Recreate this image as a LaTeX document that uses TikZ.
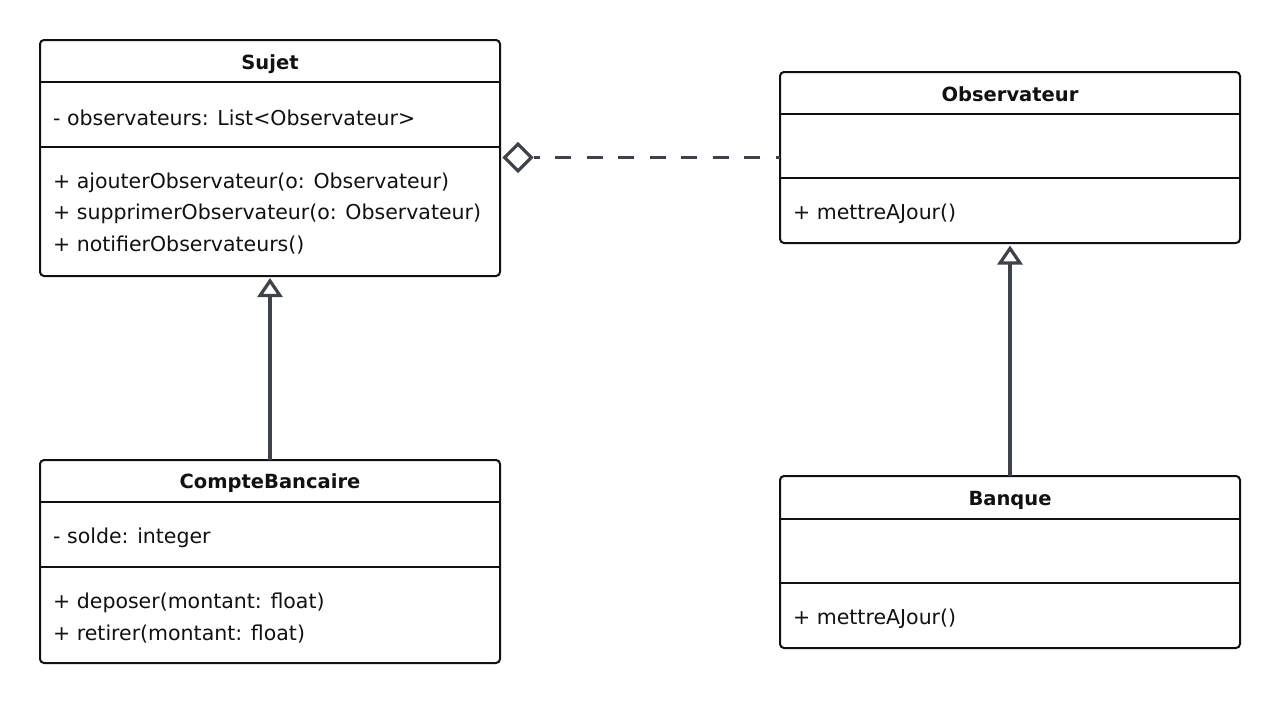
\documentclass[tikz,border=0pt]{standalone}
\usepackage{fontspec}
\setmainfont{DejaVu Sans}
\usetikzlibrary{arrows.meta,shapes.geometric}
\definecolor{conn}{RGB}{62,66,74}
\definecolor{bord}{RGB}{17,17,17}
\begin{document}
\begin{tikzpicture}[x=1pt,y=-1pt,
  classbox/.style={draw=bord, line width=2pt, rounded corners=4pt, minimum width=460pt, inner sep=0pt, outer sep=0pt, fill=white},
  sepline/.style={draw=bord, line width=2pt},
  txt/.style={inner sep=0pt, anchor=base west, font=\fontsize{20.5pt}{24pt}\selectfont, text=bord},
  ttl/.style={inner sep=0pt, anchor=base, font=\fontsize{19.5pt}{24pt}\selectfont\bfseries, text=bord},
  inherit/.style={draw=conn, line width=3.5pt, -{Triangle[open, length=19pt, width=25pt, line width=3.2pt]}},
  aggr/.style={shape=diamond, draw=conn, line width=3.2pt, fill=white, minimum width=28pt, minimum height=28pt, inner sep=0pt},
  dashline/.style={draw=conn, line width=3.5pt, dash pattern=on 16pt off 15.5pt, dash phase=10pt}
]
\useasboundingbox (0,0) rectangle (1280,704);
\fill[white] (0,0) rectangle (1280,704);

% Sujet
\node[classbox, minimum height=236pt] (sujet) at (270,158) {};
\draw[sepline] (sujet.west |- 0,82) -- (sujet.east |- 0,82);
\draw[sepline] (sujet.west |- 0,147) -- (sujet.east |- 0,147);
\node[ttl] (sujetT) at (270,69) {Sujet};
\node[txt] (sujetA) at (53,125) {- observateurs: List<Observateur>};
\node[txt] (sujetM1) at (53,188) {+ ajouterObservateur(o: Observateur)};
\node[txt] (sujetM2) at (53,219.5) {+ supprimerObservateur(o: Observateur)};
\node[txt] (sujetM3) at (53,251) {+ notifierObservateurs()};

% Observateur
\node[classbox, minimum height=171pt] (obs) at (1010,157.5) {};
\draw[sepline] (obs.west |- 0,114) -- (obs.east |- 0,114);
\draw[sepline] (obs.west |- 0,178) -- (obs.east |- 0,178);
\node[ttl] (obsT) at (1010,101) {Observateur};
\node[txt] (obsM1) at (793,219) {+ mettreAJour()};

% CompteBancaire
\node[classbox, minimum height=203pt] (compte) at (270,561.5) {};
\draw[sepline] (compte.west |- 0,502) -- (compte.east |- 0,502);
\draw[sepline] (compte.west |- 0,567) -- (compte.east |- 0,567);
\node[ttl] (compteT) at (270,488.5) {CompteBancaire};
\node[txt] (compteA) at (53,543) {- solde: integer};
\node[txt] (compteM1) at (53,608) {+ deposer(montant: float)};
\node[txt] (compteM2) at (53,640) {+ retirer(montant: float)};

% Banque
\node[classbox, minimum height=172pt] (banque) at (1010,562) {};
\draw[sepline] (banque.west |- 0,519) -- (banque.east |- 0,519);
\draw[sepline] (banque.west |- 0,583) -- (banque.east |- 0,583);
\node[ttl] (banqueT) at (1010,505) {Banque};
\node[txt] (banqueM1) at (793,624) {+ mettreAJour()};

% Connectors
\draw[inherit, shorten >=2pt] (compte.north) -- (sujet.south);
\draw[inherit, shorten >=2.5pt] (banque.north) -- (obs.south);
\node[aggr] (agg) at (518,157.5) {};
\draw[dashline] (agg.east) -- (agg.east -| obs.west);
\end{tikzpicture}
\end{document}
